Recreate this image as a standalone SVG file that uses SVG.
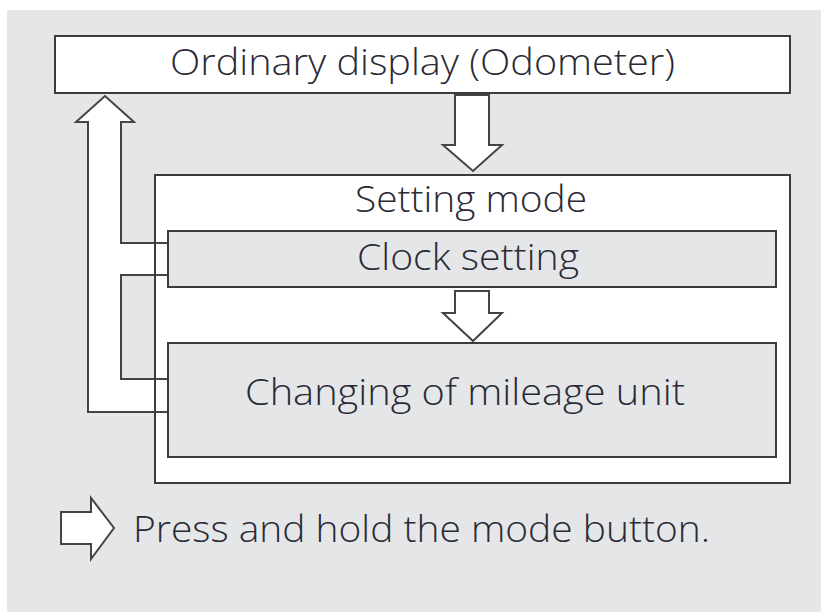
<svg xmlns="http://www.w3.org/2000/svg" width="821" height="612" viewBox="0 0 821 612">
<style>
.bg{fill:#e5e6e8}
.box{stroke:#3c3c3c;stroke-width:2}
.white{fill:#ffffff}
.gray{fill:#e5e6e8}
.arrow{fill:#ffffff;stroke:#444444;stroke-width:2;stroke-linejoin:miter}
.t{font-family:"Open Sans","Noto Sans","DejaVu Sans",sans-serif;font-weight:300;fill:#2a2a36}
</style>
<rect x="0" y="0" width="821" height="612" fill="#ffffff"/>
<rect class="bg" x="7" y="10" width="814" height="602"/>
<g id="ordinary-display">
<rect class="box white" x="55" y="36" width="735" height="57"/>
<text class="t" x="170" y="75" font-size="36" textLength="505" lengthAdjust="spacingAndGlyphs">Ordinary display (Odometer)</text>
</g>
<g id="setting-mode">
<rect class="white" x="155" y="175" width="635" height="308"/>
</g>
<g id="connectors">
<polygon class="arrow" points="88,412 88,122 76,122 105,96 134,122 121,122 121,243 168,243 168,275 121,275 121,379 168,379 168,412"/>
<polygon class="arrow" points="455,95 489,95 489,145 502,145 473,171 443,145 455,145"/>
<polygon class="arrow" points="455,291 489,291 489,313 502,313 473,341 443,313 455,313"/>
</g>
<g id="setting-mode-frame">
<rect class="box" fill="none" x="155" y="175" width="635" height="308"/>
<text class="t" x="355" y="212" font-size="37" textLength="232" lengthAdjust="spacingAndGlyphs">Setting mode</text>
</g>
<g id="clock-setting">
<rect class="box gray" x="168" y="231" width="608" height="56"/>
<text class="t" x="357" y="270" font-size="37" textLength="222" lengthAdjust="spacingAndGlyphs">Clock setting</text>
</g>
<g id="changing-mileage">
<rect class="box gray" x="168" y="343" width="608" height="114"/>
<text class="t" x="245" y="405" font-size="37" textLength="440" lengthAdjust="spacingAndGlyphs">Changing of mileage unit</text>
</g>
<g id="legend">
<polygon class="arrow" points="61,512 91,512 91,498 114,528 91,559 91,544 61,544"/>
<text class="t" x="133" y="542" font-size="37" textLength="577" lengthAdjust="spacingAndGlyphs">Press and hold the mode button.</text>
</g>
</svg>
